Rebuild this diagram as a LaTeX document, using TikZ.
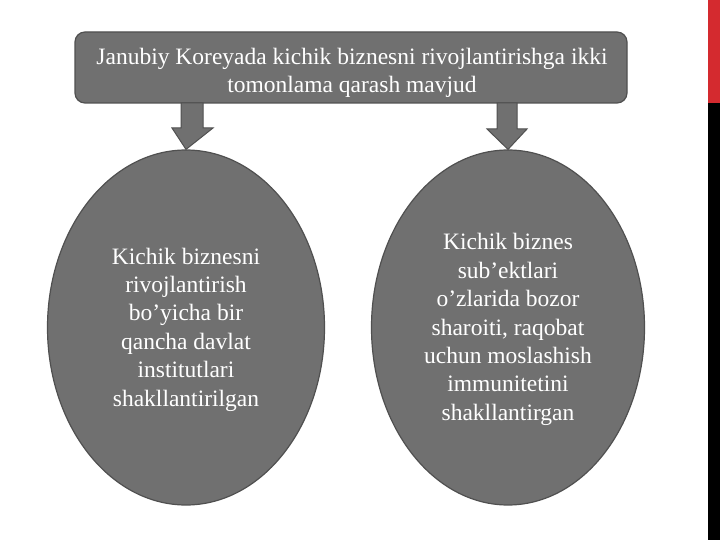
\documentclass[tikz,border=0pt]{standalone}
\usepackage{fontspec}
\setmainfont{Liberation Serif}
\usetikzlibrary{shapes.geometric}
\definecolor{boxgray}{RGB}{112,112,112}
\definecolor{edgegray}{RGB}{80,80,80}
\definecolor{barred}{RGB}{212,42,47}
\tikzset{
  boxtext/.style={text=white, align=center, font=\fontsize{23.5}{28.4}\selectfont, inner sep=0pt},
  topbox/.style={draw=edgegray, line width=1.2pt, fill=boxgray, rounded corners=10pt},
  oval/.style={ellipse, draw=edgegray, line width=1.2pt, fill=boxgray, minimum width=277pt, minimum height=355pt, inner sep=0pt},
  blockarrow/.style={draw=edgegray, line width=1pt, fill=boxgray}
}
\begin{document}
\begin{tikzpicture}[x=1pt,y=-1pt]
\useasboundingbox (0,0) rectangle (720,540);
\fill[white] (0,0) rectangle (720,540);
% right edge bars
\fill[barred] (708,0) rectangle (720,103);
\fill[black] (708,103) rectangle (720,540);
% top box
\draw[topbox] (75,32) rectangle (627,103);
\node[boxtext] (top) at (352,73) {Janubiy Koreyada kichik biznesni rivojlantirishga ikki\\tomonlama qarash mavjud};
% ellipses
\node[oval] (left) at (186,327.5) {};
\node[oval, minimum width=273pt] (right) at (508,327.5) {};
\node[boxtext] (lt) at ([yshift=-2pt]left.center) {Kichik biznesni\\rivojlantirish\\bo’yicha bir\\qancha davlat\\institutlari\\shakllantirilgan};
\node[boxtext] (rt) at ([yshift=-2pt]right.center) {Kichik biznes\\sub’ektlari\\o’zlarida bozor\\sharoiti, raqobat\\uchun moslashish\\immunitetini\\shakllantirgan};
% block arrows
\draw[blockarrow] (181,103) -- (203,103) -- (203,128) -- (213,128) -- (left.north) -- (172,128) -- (181,128) -- cycle;
\draw[blockarrow] (497,103) -- (517,103) -- (517,129) -- (527,129) -- (right.north) -- (487,129) -- (497,129) -- cycle;
\end{tikzpicture}
\end{document}
